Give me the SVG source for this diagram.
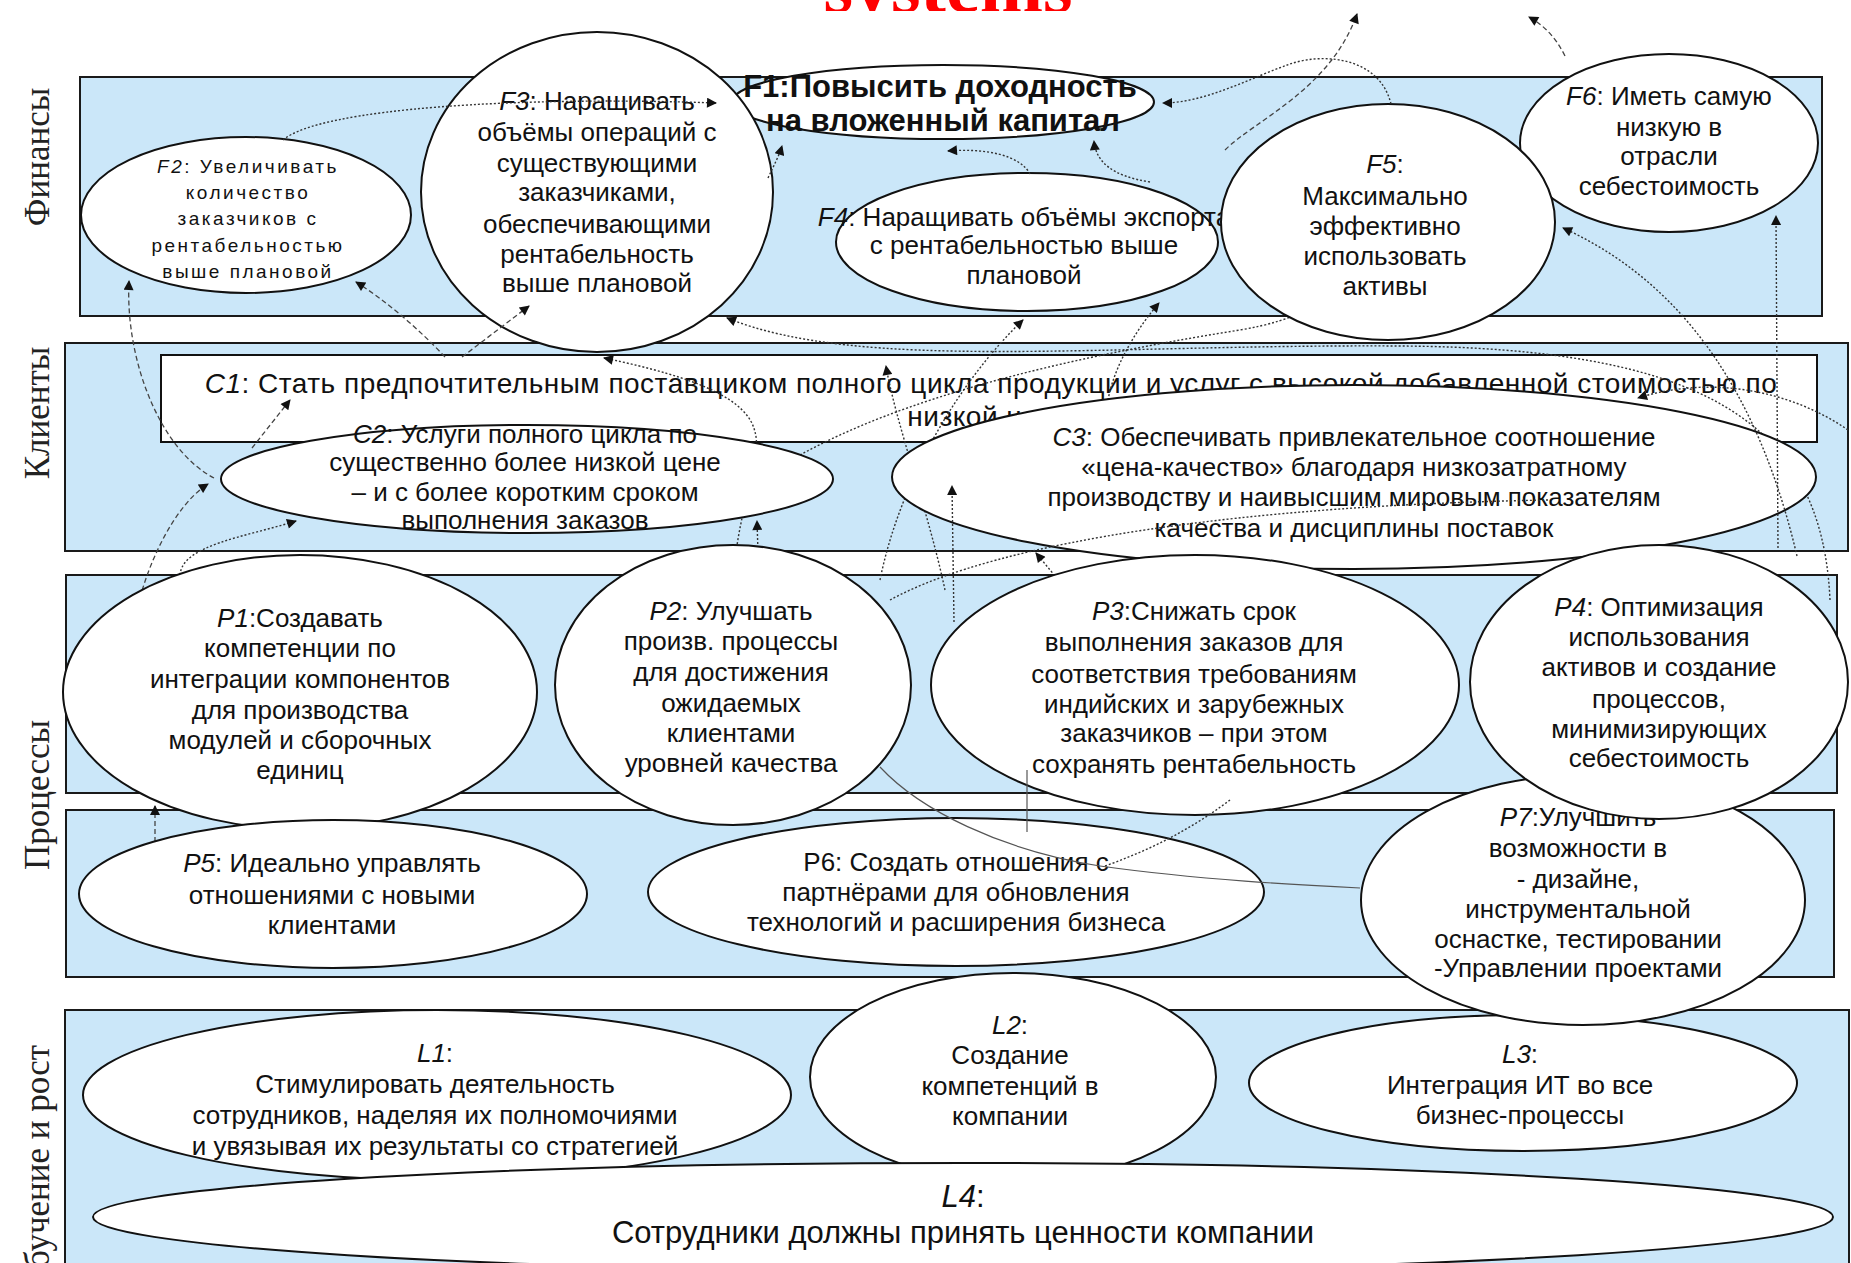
<svg xmlns="http://www.w3.org/2000/svg" width="1851" height="1263" viewBox="0 0 1851 1263">
<defs>
<style>
.band{fill:#cbe7f9;stroke:#1a1a1a;stroke-width:2}
.node{fill:#fff;stroke:#111;stroke-width:2}
.t{font-family:"Liberation Sans",Arial,sans-serif;font-size:26px;fill:#111;text-anchor:middle}
.t.f2{font-size:19px;letter-spacing:2.5px}
.i{font-style:italic}
.lab{font-family:"Liberation Serif","Times New Roman",serif;font-size:35px;fill:#222;text-anchor:middle}
.c{fill:none;stroke:#333;stroke-width:1.4;stroke-dasharray:2 2}
.cd{fill:none;stroke:#444;stroke-width:1.3;stroke-dasharray:5 3}
.cs{fill:none;stroke:#555;stroke-width:1.2}
</style>
<marker id="ah" viewBox="0 0 10 10" refX="9" refY="5" markerWidth="12" markerHeight="10" markerUnits="userSpaceOnUse" orient="auto"><path d="M0,0 L10,5 L0,10 z" fill="#111"/></marker>
<clipPath id="tclip"><rect x="0" y="0" width="1851" height="11"/></clipPath>
</defs>
<rect x="0" y="0" width="1851" height="1263" fill="#fff"/>
<g id="title" clip-path="url(#tclip)"><text x="948" y="12" font-family="Liberation Serif,Times New Roman,serif" font-weight="bold" font-size="76" fill="#ff0000" text-anchor="middle">systems</text></g>
<g id="lane-labels">
<text class="lab" transform="translate(49,157) rotate(-90)">Финансы</text>
<text class="lab" transform="translate(49,413) rotate(-90)">Клиенты</text>
<text class="lab" transform="translate(49,795) rotate(-90)">Процессы</text>
<text class="lab" transform="translate(49,1045) rotate(-90)" style="text-anchor:end">Обучение и рост</text>
</g>
<g id="bands">
<rect class="band" x="80" y="77" width="1742" height="239"/>
<rect class="band" x="65" y="343" width="1783" height="208"/>
<rect class="band" x="66" y="575" width="1771" height="218"/>
<rect class="band" x="66" y="810" width="1768" height="167"/>
<rect class="band" x="65" y="1010" width="1784" height="270"/>
</g>
<g id="C1">
<rect x="161" y="355" width="1656" height="87" fill="#fff" stroke="#111" stroke-width="2"/>
<text class="t" x="991" y="393" style="font-size:28px;letter-spacing:0.5px"><tspan class="i">C1</tspan>: Стать предпочтительным поставщиком полного цикла продукции и услуг с высокой добавленной стоимостью по</text>
<text class="t" x="989" y="426" style="font-size:28px;letter-spacing:0.5px">низкой цене</text>
</g>
<g id="connectors-under">
<path class="c" d="M 735 560 C 742 500, 762 455, 755 432 C 748 400, 700 378, 604 358" marker-end="url(#ah)"/>
<path class="c" d="M 758 552 L 757 521" marker-end="url(#ah)"/>
<path class="cd" d="M 140 598 C 150 560, 175 505, 208 484" marker-end="url(#ah)"/>
<path class="cd" d="M 214 478 C 160 450, 125 360, 129 281" marker-end="url(#ah)"/>
<path class="c" d="M 180 575 C 182 545, 245 537, 296 521" marker-end="url(#ah)"/>
<path class="cd" d="M 252 448 L 290 400" marker-end="url(#ah)"/>
<path class="cd" d="M 445 357 C 420 330, 385 300, 356 282" marker-end="url(#ah)"/>
<path class="c" d="M 945 590 C 928 510, 895 420, 886 366" marker-end="url(#ah)"/>
<path class="c" d="M 880 580 C 900 480, 960 380, 1023 320" marker-end="url(#ah)"/>
<path class="c" d="M 1108 400 C 1115 362, 1140 325, 1159 303" marker-end="url(#ah)"/>
<path class="c" d="M 1830 600 C 1822 420, 1700 348, 1400 346 C 1100 344, 860 372, 727 318" marker-end="url(#ah)"/>
<path class="c" d="M 1065 588 L 1036 553" marker-end="url(#ah)"/>
<path class="cd" d="M 155 842 L 155 806" marker-end="url(#ah)"/>
<path class="c" d="M 800 455 C 900 400, 1050 360, 1240 330 C 1300 320, 1330 300, 1340 280"/>
</g>
<g id="F1">
<ellipse class="node" cx="943" cy="102" rx="211" ry="37"/>
<text class="t" x="940" y="97" style="font-size:31px;font-weight:bold">F1:Повысить доходность</text>
<text class="t" x="943" y="131" style="font-size:31px;font-weight:bold">на вложенный капитал</text>
</g>
<g id="F3">
<ellipse class="node" cx="597" cy="192" rx="176" ry="160"/>
<text class="t" x="597" y="110"><tspan class="i">F3</tspan>: Наращивать</text>
<text class="t" x="597" y="141">объёмы операций с</text>
<text class="t" x="597" y="172">существующими</text>
<text class="t" x="597" y="201">заказчиками,</text>
<text class="t" x="597" y="233">обеспечивающими</text>
<text class="t" x="597" y="263">рентабельность</text>
<text class="t" x="597" y="292">выше плановой</text>
</g>
<g id="F2">
<ellipse class="node" cx="246" cy="215" rx="165" ry="78"/>
<text class="t f2" x="248" y="173"><tspan class="i">F2</tspan>: Увеличивать</text>
<text class="t f2" x="248" y="199">количество</text>
<text class="t f2" x="248" y="225">заказчиков с</text>
<text class="t f2" x="248" y="252">рентабельностью</text>
<text class="t f2" x="248" y="278">выше плановой</text>
</g>
<g id="F4">
<ellipse class="node" cx="1027" cy="242" rx="191" ry="69"/>
<text class="t" x="1024" y="226"><tspan class="i">F4</tspan>: Наращивать объёмы экспорта</text>
<text class="t" x="1024" y="254">с рентабельностью выше</text>
<text class="t" x="1024" y="284">плановой</text>
</g>
<g id="F6">
<ellipse class="node" cx="1669" cy="143" rx="149" ry="89"/>
<text class="t" x="1669" y="105"><tspan class="i">F6</tspan>: Иметь самую</text>
<text class="t" x="1669" y="136">низкую в</text>
<text class="t" x="1669" y="165">отрасли</text>
<text class="t" x="1669" y="195">себестоимость</text>
</g>
<g id="F5">
<ellipse class="node" cx="1388" cy="222" rx="167" ry="118"/>
<text class="t" x="1385" y="173"><tspan class="i">F5</tspan>:</text>
<text class="t" x="1385" y="205">Максимально</text>
<text class="t" x="1385" y="235">эффективно</text>
<text class="t" x="1385" y="265">использовать</text>
<text class="t" x="1385" y="295">активы</text>
</g>
<g id="C2">
<ellipse class="node" cx="527" cy="479" rx="306" ry="54"/>
<text class="t" x="525" y="443"><tspan class="i">C2</tspan>: Услуги полного цикла по</text>
<text class="t" x="525" y="471">существенно более низкой цене</text>
<text class="t" x="525" y="501">– и с более коротким сроком</text>
<text class="t" x="525" y="529">выполнения заказов</text>
</g>
<g id="C3">
<ellipse class="node" cx="1354" cy="477" rx="462" ry="92"/>
<text class="t" x="1354" y="446"><tspan class="i">C3</tspan>: Обеспечивать привлекательное соотношение</text>
<text class="t" x="1354" y="476">«цена-качество» благодаря низкозатратному</text>
<text class="t" x="1354" y="506">производству и наивысшим мировым показателям</text>
<text class="t" x="1354" y="537">качества и дисциплины поставок</text>
</g>
<g id="P1">
<ellipse class="node" cx="300" cy="692" rx="237" ry="137"/>
<text class="t" x="300" y="627"><tspan class="i">P1</tspan>:Создавать</text>
<text class="t" x="300" y="657">компетенции по</text>
<text class="t" x="300" y="688">интеграции компонентов</text>
<text class="t" x="300" y="719">для производства</text>
<text class="t" x="300" y="749">модулей и сборочных</text>
<text class="t" x="300" y="779">единиц</text>
</g>
<g id="P2">
<ellipse class="node" cx="733" cy="685" rx="178" ry="140"/>
<text class="t" x="731" y="620"><tspan class="i">P2</tspan>: Улучшать</text>
<text class="t" x="731" y="650">произв. процессы</text>
<text class="t" x="731" y="681">для достижения</text>
<text class="t" x="731" y="712">ожидаемых</text>
<text class="t" x="731" y="742">клиентами</text>
<text class="t" x="731" y="772">уровней качества</text>
</g>
<g id="P3">
<ellipse class="node" cx="1195" cy="685" rx="264" ry="130"/>
<text class="t" x="1194" y="620"><tspan class="i">P3</tspan>:Снижать срок</text>
<text class="t" x="1194" y="651">выполнения заказов для</text>
<text class="t" x="1194" y="683">соответствия требованиям</text>
<text class="t" x="1194" y="713">индийских и зарубежных</text>
<text class="t" x="1194" y="742">заказчиков – при этом</text>
<text class="t" x="1194" y="773">сохранять рентабельность</text>
</g>
<g id="P5">
<ellipse class="node" cx="333" cy="894" rx="254" ry="74"/>
<text class="t" x="332" y="872"><tspan class="i">P5</tspan>: Идеально управлять</text>
<text class="t" x="332" y="904">отношениями с новыми</text>
<text class="t" x="332" y="934">клиентами</text>
</g>
<g id="P6">
<ellipse class="node" cx="956" cy="892" rx="308" ry="74"/>
<text class="t" x="956" y="871">P6:  Создать отношения с</text>
<text class="t" x="956" y="901">партнёрами для обновления</text>
<text class="t" x="956" y="931">технологий и расширения бизнеса</text>
</g>
<g id="L1">
<ellipse class="node" cx="437" cy="1095" rx="354" ry="85"/>
<text class="t" x="435" y="1062"><tspan class="i">L1</tspan>:</text>
<text class="t" x="435" y="1093">Стимулировать деятельность</text>
<text class="t" x="435" y="1124">сотрудников, наделяя их полномочиями</text>
<text class="t" x="435" y="1155">и увязывая их результаты со стратегией</text>
</g>
<g id="L2">
<ellipse class="node" cx="1013" cy="1077" rx="203" ry="104"/>
<text class="t" x="1010" y="1034"><tspan class="i">L2</tspan>:</text>
<text class="t" x="1010" y="1064">Создание</text>
<text class="t" x="1010" y="1095">компетенций в</text>
<text class="t" x="1010" y="1125">компании</text>
</g>
<g id="L3">
<ellipse class="node" cx="1523" cy="1083" rx="274" ry="68"/>
<text class="t" x="1520" y="1063"><tspan class="i">L3</tspan>:</text>
<text class="t" x="1520" y="1094">Интеграция ИТ во все</text>
<text class="t" x="1520" y="1124">бизнес-процессы</text>
</g>
<g id="P7">
<ellipse class="node" cx="1583" cy="900" rx="222" ry="125"/>
<text class="t" x="1578" y="826"><tspan class="i">P7</tspan>:Улучшить</text>
<text class="t" x="1578" y="857">возможности в</text>
<text class="t" x="1578" y="888">- дизайне,</text>
<text class="t" x="1578" y="918">инструментальной</text>
<text class="t" x="1578" y="948">оснастке, тестировании</text>
<text class="t" x="1578" y="977">-Управлении проектами</text>
</g>
<g id="P4">
<ellipse class="node" cx="1659" cy="682" rx="189" ry="137"/>
<text class="t" x="1659" y="616"><tspan class="i">P4</tspan>: Оптимизация</text>
<text class="t" x="1659" y="646">использования</text>
<text class="t" x="1659" y="676">активов и создание</text>
<text class="t" x="1659" y="708">процессов,</text>
<text class="t" x="1659" y="738">минимизирующих</text>
<text class="t" x="1659" y="767">себестоимость</text>
</g>
<g id="L4">
<ellipse class="node" cx="963" cy="1217" rx="870" ry="54"/>
<text class="t" x="963" y="1207" style="font-size:31px"><tspan class="i">L4</tspan>:</text>
<text class="t" x="963" y="1243" style="font-size:31px">Сотрудники должны принять ценности компании</text>
</g>
<g id="connectors-over">
<path class="c" d="M 283 140 C 320 108, 520 96, 716 103" marker-end="url(#ah)"/>
<path class="c" d="M 768 178 C 774 165, 779 156, 782 146" marker-end="url(#ah)"/>
<path class="c" d="M 1030 174 C 1020 155, 985 148, 948 151" marker-end="url(#ah)"/>
<path class="c" d="M 1150 182 C 1112 176, 1096 162, 1094 141" marker-end="url(#ah)"/>
<path class="cd" d="M 1225 150 C 1255 120, 1330 90, 1357 14" marker-end="url(#ah)"/>
<path class="c" d="M 1391 104 C 1380 58, 1325 52, 1290 64 C 1250 78, 1205 103, 1163 103" marker-end="url(#ah)"/>
<path class="cd" d="M 1565 56 C 1556 38, 1545 26, 1529 17" marker-end="url(#ah)"/>
<path class="c" d="M 1778 548 L 1776 216" marker-end="url(#ah)"/>
<path class="c" d="M 1797 556 C 1765 420, 1700 290, 1563 228" marker-end="url(#ah)"/>
<path class="cd" d="M 462 357 L 529 306" marker-end="url(#ah)"/>
<path class="c" d="M 954 622 L 952 486" marker-end="url(#ah)"/>
<path class="c" d="M 1848 430 C 1790 390, 1710 375, 1638 398" marker-end="url(#ah)"/>
<path class="c" d="M 890 600 C 1000 540, 1250 505, 1550 500"/>
<path class="cs" d="M 1027 832 L 1027 770"/>
<path class="c" d="M 1105 866 C 1150 850, 1190 830, 1230 800"/>
<path class="cs" d="M 880 767 C 920 810, 1000 850, 1100 866 C 1200 880, 1300 885, 1360 888"/>
</g>
</svg>
